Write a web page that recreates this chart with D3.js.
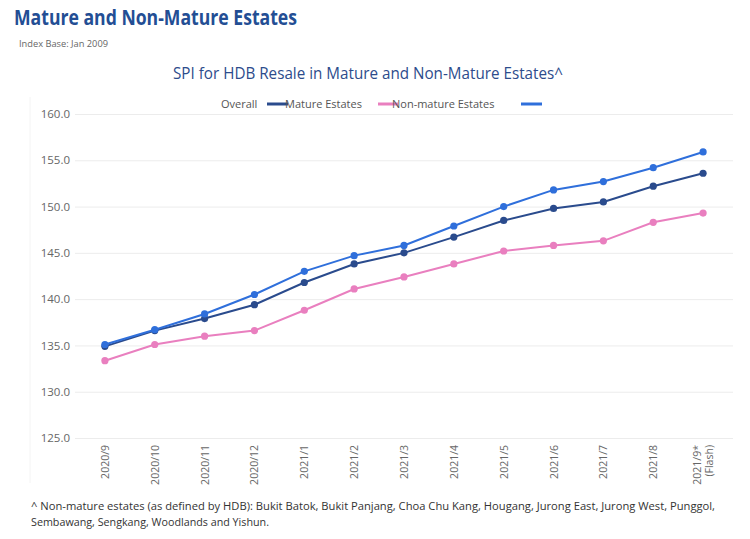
<!DOCTYPE html>
<html>
<head>
<meta charset="utf-8">
<script src="https://cdn.jsdelivr.net/npm/d3@7"></script>
<style>
  body { margin: 0; background: #fff; }
  text { font-family: "Open Sans", sans-serif; }
</style>
</head>
<body>
<div id="chart"></div>
<script>
// data
var months = ['2020/9', '2020/10', '2020/11', '2020/12', '2021/1', '2021/2', '2021/3',
    '2021/4', '2021/5', '2021/6', '2021/7', '2021/8', '2021/9*|(Flash)']
var overall = [135.1, 136.7, 138.4, 140.5, 143.0, 144.7, 145.8, 147.9, 150.0, 151.8, 152.7, 154.2, 155.9]
var mature = [134.9, 136.6, 137.9, 139.4, 141.8, 143.8, 145.0, 146.7, 148.5, 149.8, 150.5, 152.2, 153.6]
var nonMature = [133.35, 135.1, 136.0, 136.6, 138.8, 141.1, 142.4, 143.8, 145.2, 145.8, 146.3, 148.3, 149.3]
var yTicks = [125, 130, 135, 140, 145, 150, 155, 160]

var width = 750
var height = 539

const svg = d3.select('#chart')
    .append('svg')
    .attr('width', width)
    .attr('height', height)

// faint frame edge on the left of the chart
svg.append('line')
    .attr('x1', 30).attr('x2', 30).attr('y1', 97).attr('y2', 483)
    .attr('stroke', '#f4f4f4')

// titles
svg.append('text')
    .attr('x', 14).attr('y', 25)
    .attr('font-size', 21).attr('font-weight', 'bold')
    .attr('fill', '#234e94')
    .attr('textLength', 283).attr('lengthAdjust', 'spacingAndGlyphs')
    .text('Mature and Non-Mature Estates')

svg.append('text')
    .attr('x', 19).attr('y', 47)
    .attr('font-size', 9).attr('fill', '#666')
    .attr('textLength', 89).attr('lengthAdjust', 'spacingAndGlyphs')
    .text('Index Base: Jan 2009')

svg.append('text')
    .attr('x', 173).attr('y', 79)
    .attr('font-size', 15.5).attr('fill', '#2d4c8c')
    .attr('textLength', 390).attr('lengthAdjust', 'spacingAndGlyphs')
    .text('SPI for HDB Resale in Mature and Non-Mature Estates^')

// scales
var x = d3.scalePoint()
    .domain(months)
    .range([75, 733])
    .padding(0.6)

var y = d3.scaleLinear()
    .domain([125, 160])
    .range([438, 114])

// grid + y axis
svg.append('g')
    .attr('transform', 'translate(75,0)')
    .call(d3.axisLeft(y).tickValues(yTicks).tickFormat(d3.format('.1f')).tickSize(-658).tickPadding(5))
    .call(g => g.select('.domain').remove())
    .call(g => g.selectAll('.tick line').attr('stroke', '#ececec'))
    .call(g => g.selectAll('.tick text')
        .attr('font-family', '"Open Sans", sans-serif')
        .attr('font-size', 11.5).attr('fill', '#666'))

// x labels
var xAxis = svg.append('g')
    .attr('transform', 'translate(0,438)')
    .call(d3.axisBottom(x).tickSize(0).tickFormat(''))
xAxis.select('.domain').remove()
xAxis.selectAll('.tick text').remove()

var xl = svg.append('g').selectAll('text')
    .data(months)
    .join('text')
    .attr('transform', d => `translate(${x(d) + 4},445) rotate(-90)`)
    .attr('text-anchor', 'end')
    .attr('font-size', 10.5)
    .attr('fill', '#666')
xl.each(function (d) {
    var parts = d.split('|')
    var t = d3.select(this)
    parts.forEach((p, i) => {
        t.append('tspan')
            .attr('x', 0)
            .attr('dy', i == 0 ? (parts.length > 1 ? -6 : 0) : 12)
            .text(p)
    })
})

// lines
var series = [
    { name: 'Non-mature Estates', values: nonMature, color: '#e97fbf' },
    { name: 'Mature Estates', values: mature, color: '#2a4b8d' },
    { name: 'Overall', values: overall, color: '#2f6fdb' }
]

var line = d3.line()
    .x((d, i) => x(months[i]))
    .y(d => y(d))

series.forEach(s => {
    svg.append('path')
        .datum(s.values)
        .attr('d', line)
        .attr('fill', 'none')
        .attr('stroke', s.color)
        .attr('stroke-width', 2)
    svg.append('g').selectAll('circle')
        .data(s.values)
        .join('circle')
        .attr('cx', (d, i) => x(months[i]))
        .attr('cy', d => y(d))
        .attr('r', 3.6)
        .attr('fill', s.color)
})

// legend (kept as it appears, swatches shifted)
var legend = svg.append('g').attr('font-size', 11).attr('fill', '#555')
legend.append('text').attr('x', 221).attr('y', 108).text('Overall')
legend.append('line').attr('x1', 267).attr('x2', 288).attr('y1', 104).attr('y2', 104)
    .attr('stroke', '#2a4b8d').attr('stroke-width', 3)
legend.append('text').attr('x', 285).attr('y', 108).text('Mature Estates')
legend.append('line').attr('x1', 378).attr('x2', 398).attr('y1', 104).attr('y2', 104)
    .attr('stroke', '#e97fbf').attr('stroke-width', 3)
legend.append('text').attr('x', 392).attr('y', 108).text('Non-mature Estates')
legend.append('line').attr('x1', 521).attr('x2', 542).attr('y1', 104).attr('y2', 104)
    .attr('stroke', '#2f6fdb').attr('stroke-width', 3)

// footnote
svg.append('text')
    .attr('x', 31).attr('y', 510)
    .attr('font-size', 11).attr('fill', '#333')
    .attr('textLength', 684).attr('lengthAdjust', 'spacingAndGlyphs')
    .text('^ Non-mature estates (as defined by HDB): Bukit Batok, Bukit Panjang, Choa Chu Kang, Hougang, Jurong East, Jurong West, Punggol,')
svg.append('text')
    .attr('x', 31).attr('y', 526)
    .attr('font-size', 11).attr('fill', '#333')
    .attr('textLength', 238).attr('lengthAdjust', 'spacingAndGlyphs')
    .text('Sembawang, Sengkang, Woodlands and Yishun.')
</script>
</body>
</html>
